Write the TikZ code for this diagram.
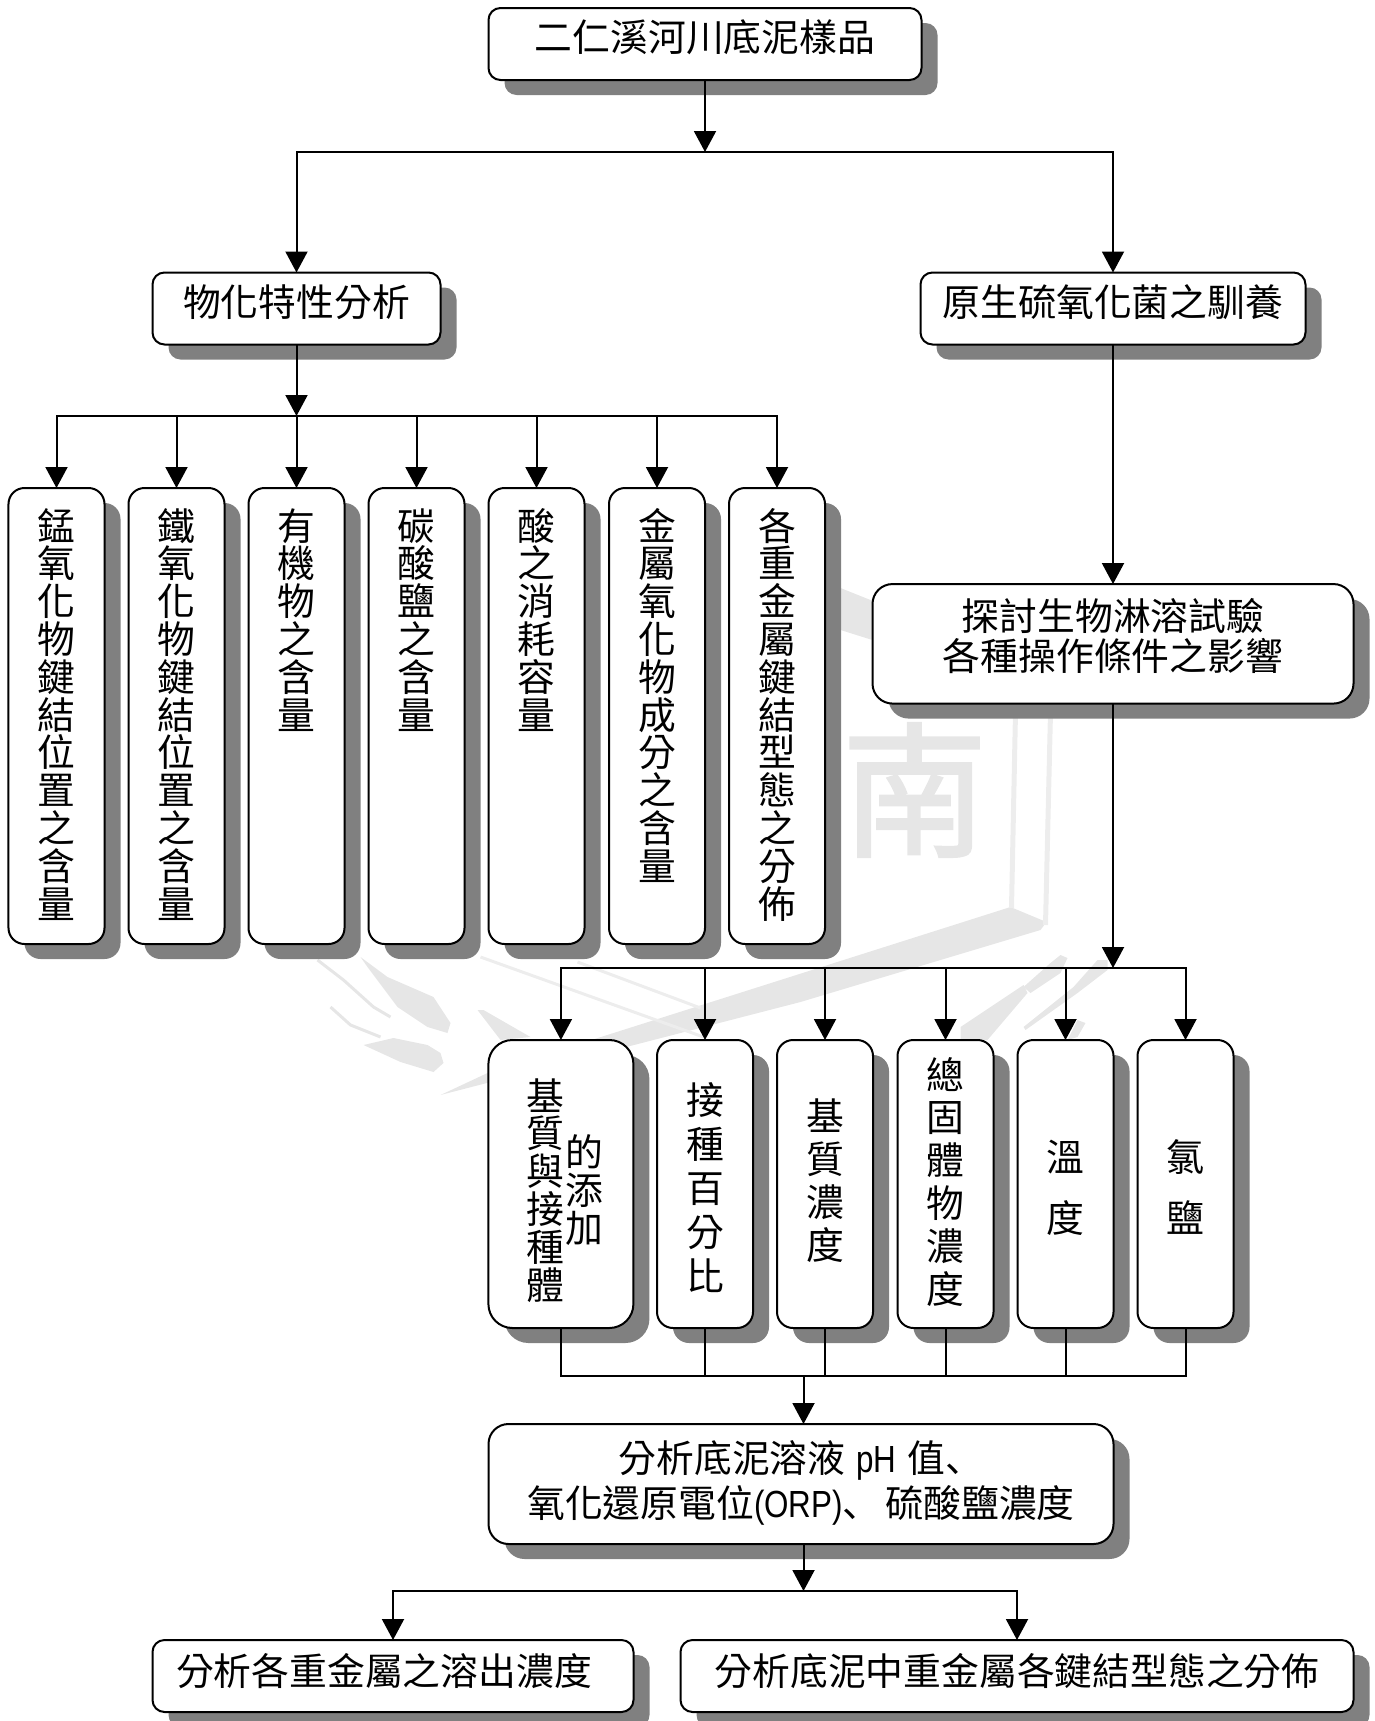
\documentclass[tikz,border=0pt]{standalone}
\usepackage{fontspec}
\setmainfont{Noto Sans CJK TC}
\newfontfamily\commafont{Noto Sans CJK JP}
\newfontfamily\markfont[FakeBold=2]{Noto Sans CJK TC}
\newfontfamily\latinfont[FakeStretch=0.83]{Liberation Sans}
\usepackage{tikz}
\usetikzlibrary{arrows.meta, shadows}
\definecolor{custom_shadow}{RGB}{128, 128, 128}
\definecolor{custom_mark}{RGB}{230, 230, 230}
\newcommand{\boxfont}{\fontsize{37.8}{37.8}\selectfont\lineskiplimit=-20pt}

\begin{document}
\begin{tikzpicture}[
        x=1pt, y=-1pt,
        every node/.style={inner sep=0pt, outer sep=0pt},
        rbox/.style={draw=black, fill=white, line width=2pt, align=center, font=\boxfont,
            drop shadow={shadow xshift=16pt, shadow yshift=-15pt, fill=custom_shadow, opacity=1}},
        rowbox/.style={rbox, rounded corners=12pt, text width=#1, text height=43.5pt, text depth=28.5pt},
        colbox/.style={rbox, rounded corners=16pt, text width=96pt, text height=52pt, text depth=404pt},
        lowbox/.style={rbox, rounded corners=16pt, text width=96pt},
        arr/.style={-{Triangle[length=21pt, width=22pt]}, line width=2pt},
        lin/.style={line width=2pt}
    ]
        \useasboundingbox (-0.5, 0) rectangle (1374.5, 1721);

        % -------- Watermark --------
        \fill[custom_mark] (1010, 907) -- (1046, 922) -- (1040, 930) -- (800, 1002) -- (440, 1095) -- (487, 1073) -- cycle;
        \fill[custom_mark] (840, 588) -- (875, 602) -- (875, 641) -- (840, 630) -- cycle;
        \fill[custom_mark] (360, 957) -- (387, 977) -- (433, 997) -- (450, 1023) -- (447, 1033) -- (427, 1027) -- (397, 1007) -- (367, 967) -- cycle;
        \fill[custom_mark] (363, 1045) -- (400, 1062) -- (433, 1072) -- (443, 1063) -- (440, 1053) -- (427, 1045) -- (393, 1038) -- cycle;
        \fill[custom_mark] (477, 1010) -- (483, 1010) -- (530, 1037) -- (500, 1040) -- cycle;
        \fill[custom_mark] (1060, 955) -- (1067, 958) -- (1060, 973) -- (1030, 993) -- (1023, 987) -- (1050, 963) -- cycle;
        \fill[custom_mark] (1023, 985) -- (1027, 993) -- (987, 1040) -- (960, 1040) -- (960, 1027) -- cycle;
        \fill[custom_mark] (1107, 960) -- (1097, 960) -- (1073, 987) -- (1023, 1027) -- (1025, 1030) -- (1077, 993) -- (1107, 970) -- cycle;
        \fill[custom_mark] (1077, 1020) -- (1085, 1023) -- (1077, 1037) -- (1067, 1040) -- cycle;
        \draw[custom_mark, line width=3pt] (317, 960) -- (343, 980) -- (373, 1007) -- (390, 1017);
        \draw[custom_mark, line width=3pt] (330, 1007) -- (350, 1025) -- (380, 1037);
        \draw[custom_mark!70, line width=3pt] (480, 957) -- (703, 1037);
        \draw[custom_mark!70, line width=3pt] (577, 962) -- (700, 1008);
        \draw[custom_mark!70, line width=5pt] (1015, 712) -- (1011, 908);
        \draw[custom_mark!70, line width=5pt] (1050, 712) -- (1045, 925);
        \node[text=custom_mark, font=\markfont\fontsize{145}{145}\selectfont] (mark) at (914, 790) {南};

        % -------- Boxes --------
        \node[rowbox=433pt] (sample) at (704.5, 44) {二仁溪河川底泥樣品};
        \node[rowbox=288pt] (phys) at (296, 308.5) {物化特性分析};
        \node[rowbox=385pt] (culture) at (1112.5, 308.5) {原生硫氧化菌之馴養};
        \node[rbox, rounded corners=20pt, text width=481pt, text height=46pt, text depth=73.5pt] (test) at (1112.5, 643.8)
            {探討生物淋溶試驗\\[3pt]各種操作條件之影響};

        % Upper row of columns
        \foreach \n/\x/\lab in {
            mn/56/{錳\\氧\\化\\物\\鍵\\結\\位\\置\\之\\含\\量},
            fe/176/{鐵\\氧\\化\\物\\鍵\\結\\位\\置\\之\\含\\量},
            org/296/{有\\機\\物\\之\\含\\量},
            carb/416/{碳\\酸\\鹽\\之\\含\\量},
            acid/536/{酸\\之\\消\\耗\\容\\量},
            oxide/656.5/{金\\屬\\氧\\化\\物\\成\\分\\之\\含\\量},
            frac/776.5/{各\\重\\金\\屬\\鍵\\結\\型\\態\\之\\分\\佈}}{
            \node[colbox] (\n) at (\x, 716) {\lab};
        }

        % Lower row of columns
        \node[rbox, rounded corners=24pt, text width=145pt, text height=156.5pt, text depth=131.5pt] (sub) at (560.4, 1184)
            {\hspace*{8pt}\parbox{39pt}{\centering 基\\質\\與\\接\\種\\體}\parbox{39pt}{\centering 的\\添\\加}};
        \foreach \n/\x/\lab/\gap/\top/\rest in {
            inoc/704.5/{接\\種\\百\\分\\比}/6.4/74/214,
            conc/824.5/{基\\質\\濃\\度}/5.2/90.5/197.5,
            solid/945/{總\\固\\體\\物\\濃\\度}/5/49/239,
            temp/1065/{溫\\度}/23.5/131/157,
            chlo/1185/{氯\\鹽}/23.5/131/157}{
            \node[lowbox, text height=\top pt, text depth=\rest pt] (\n) at (\x, 1184)
                {\setlength{\baselineskip}{\dimexpr37.8pt+\gap pt\relax}\lab\par};
        }

        \node[rbox, rounded corners=20pt, text width=625pt, text height=48pt, text depth=72pt] (ana) at (800.5, 1484)
            {分析底泥溶液\hspace{11pt}{\latinfont pH}\hspace{11pt}值{\commafont 、}\\[8pt]氧化還原電位{\latinfont (ORP)}{\commafont 、}\hspace{5pt}硫酸鹽濃度};
        \node[rowbox=481pt, text height=45.5pt, text depth=26.5pt] (leach) at (392.5, 1676) {分析各重金屬之溶出濃度\hspace*{18pt}\mbox{}};
        \node[rowbox=673pt, text height=45.5pt, text depth=26.5pt] (spec) at (1016.5, 1676) {分析底泥中重金屬各鍵結型態之分佈};

        % -------- Junctions --------
        \coordinate (hubtop) at (704.5, 152);
        \coordinate (hubphys) at (296, 416);
        \coordinate (hubtest) at (1112.5, 968);
        \coordinate (hubjoin) at (803, 1376);
        \coordinate (hubana) at (803, 1591);

        % -------- Connectors --------
        \draw[arr] (sample.south) -- (hubtop);
        \draw[arr] (hubtop) -| (phys.north);
        \draw[arr] (hubtop) -| (culture.north);
        \draw[arr] (phys.south) -- (hubphys);
        \foreach \n in {mn, fe, org, carb, acid, oxide, frac}{
            \draw[arr] (hubphys) -| (\n.north);
        }
        \draw[arr] (culture.south) -- (test.north);
        \draw[arr] (test.south) -- (hubtest);
        \foreach \n in {sub, inoc, conc, solid, temp, chlo}{
            \draw[arr] (hubtest) -| (\n.north);
            \draw[lin] (\n.south) |- (hubjoin);
        }
        \draw[arr] (hubjoin) -- (hubjoin |- ana.north);
        \draw[arr] (hubjoin |- ana.south) -- (hubana);
        \draw[arr] (hubana) -| (leach.north);
        \draw[arr] (hubana) -| (spec.north);
    \end{tikzpicture}
\end{document}
